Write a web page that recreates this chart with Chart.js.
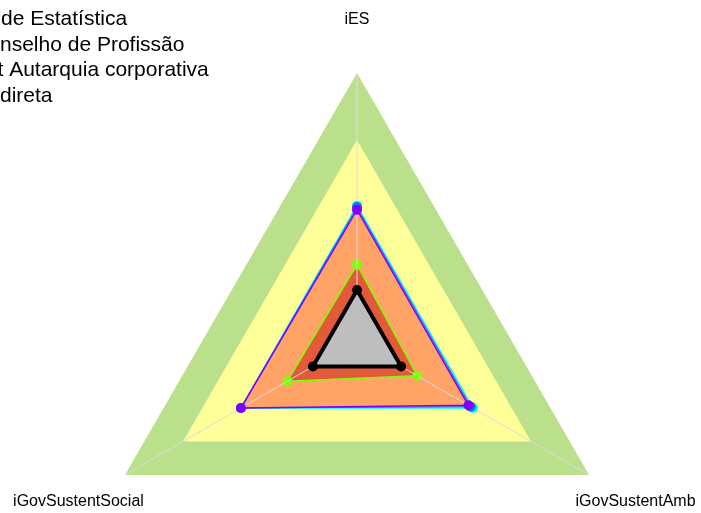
<!DOCTYPE html>
<html>
<head>
<meta charset="utf-8">
<script src="https://cdn.jsdelivr.net/npm/chart.js@4"></script>
<style>
html, body { margin: 0; padding: 0; overflow: hidden; background: #ffffff; }
#wrap { position: relative; width: 701px; height: 513px; overflow: hidden; }
canvas { position: absolute; left: 0; top: 0; }
</style>
</head>
<body>
<div id="wrap"><canvas id="c" width="701" height="640"></canvas></div>
<script>
// ---- data ----
const categories = ['iES', 'iGovSustentAmb', 'iGovSustentSocial'];
const titleLines = ['de Estatística', 'nselho de Profissão', 't Autarquia corporativa', 'direta'];
const bandGreen = [1, 1, 1];
const bandYellow = [0.75, 0.75, 0.75];
const bandOrange = [0.5, 0.5, 0.5];
const seriesBlack = [0.19, 0.19, 0.19];
const seriesPurple = [0.49, 0.48, 0.50];
const seriesBlue = [0.50, 0.49, 0.50];
const seriesCyan = [0.505, 0.50, 0.50];
const seriesGreen = [0.285, 0.26, 0.30];

const FONT = '"Liberation Sans", Arial, sans-serif';

const spokes = {
  id: 'spokes',
  afterDatasetDraw(chart, args) {
    if (args.index !== 4) return;
    const s = chart.scales.r;
    const ctx = chart.ctx;
    ctx.save();
    ctx.strokeStyle = '#dcdcdc';
    ctx.lineWidth = 1;
    for (let i = 0; i < categories.length; i++) {
      const p = s.getPointPosition(i, s.drawingArea);
      ctx.beginPath();
      ctx.moveTo(s.xCenter, s.yCenter);
      ctx.lineTo(p.x, p.y);
      ctx.stroke();
    }
    ctx.restore();
  }
};

const texts = {
  id: 'texts',
  afterDraw(chart) {
    const s = chart.scales.r;
    const ctx = chart.ctx;
    ctx.save();
    ctx.fillStyle = '#000';
    ctx.font = '16px ' + FONT;
    ctx.textAlign = 'center';
    ctx.textBaseline = 'middle';
    for (let i = 0; i < categories.length; i++) {
      const p = s.getPointPosition(i, s.drawingArea * 1.2);
      ctx.fillText(categories[i], p.x, p.y);
    }
    ctx.font = '21px ' + FONT;
    ctx.textAlign = 'left';
    ctx.textBaseline = 'alphabetic';
    const xs = [1, 0, -2.5, 0];
    for (let i = 0; i < titleLines.length; i++) {
      ctx.fillText(titleLines[i], xs[i], 25 + i * 25.6);
    }
    ctx.restore();
  }
};

function line(data, color, width, fillColor) {
  return {
    data: data,
    borderColor: color,
    borderWidth: width,
    backgroundColor: fillColor || color,
    fill: fillColor ? 'origin' : false,
    pointRadius: 5,
    pointBorderWidth: 0,
    pointBackgroundColor: color,
    pointBorderColor: color
  };
}
function band(data, color) {
  return {
    data: data,
    borderWidth: 0,
    borderColor: 'rgba(0,0,0,0)',
    backgroundColor: color,
    fill: 'origin',
    pointRadius: 0
  };
}

new Chart(document.getElementById('c'), {
  type: 'radar',
  data: {
    labels: categories,
    datasets: [
      line(seriesBlack, '#000000', 4, '#bebebe'),
      line(seriesPurple, '#8000ff', 1.5),
      line(seriesBlue, '#1a6cff', 1),
      line(seriesCyan, '#00ffff', 1.5),
      line(seriesGreen, '#80ff00', 1.5, '#e25a3a'),
      band(bandOrange, '#ffa366'),
      band(bandYellow, '#ffff99'),
      band(bandGreen, '#bae08b')
    ]
  },
  options: {
    responsive: false,
    animation: false,
    layout: { padding: { left: 89, right: 75, top: 73, bottom: 30 } },
    plugins: { legend: { display: false }, tooltip: { enabled: false }, title: { display: false } },
    elements: { line: { tension: 0 } },
    scales: {
      r: {
        min: 0,
        max: 1,
        ticks: { display: false },
        grid: { display: false },
        angleLines: { display: false },
        pointLabels: { display: false }
      }
    }
  },
  plugins: [spokes, texts]
});
</script>
</body>
</html>
